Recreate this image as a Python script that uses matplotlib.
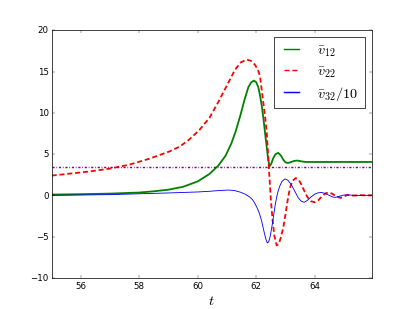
import numpy as np
import matplotlib
matplotlib.use("Agg")
import matplotlib.pyplot as plt

plt.style.use('classic')

# values
t12 = [55.0, 56.0, 57.0, 58.0, 58.5, 59.0, 59.5, 60.0, 60.4, 60.7, 60.95, 61.15,
       61.3, 61.45, 61.6, 61.73, 61.83, 61.92, 62.0, 62.07, 62.13, 62.19, 62.25,
       62.3, 62.36, 62.41, 62.46, 62.51, 62.58, 62.66, 62.75, 62.84, 62.93, 63.0,
       63.09, 63.2, 63.3, 63.41, 63.55, 63.7, 64.0, 65.95]
v12 = [0.1, 0.15, 0.22, 0.35, 0.5, 0.7, 1.05, 1.7, 2.6, 3.6, 4.8, 6.3,
       7.8, 9.6, 11.6, 13.1, 13.7, 13.9, 13.7, 13.1, 12.1, 10.8, 9.2,
       7.6, 5.8, 4.3, 3.55, 3.8, 4.5, 5.0, 5.15, 4.85, 4.3, 4.0,
       3.93, 4.05, 4.18, 4.22, 4.12, 4.05, 4.05, 4.05]

t22 = [55.0, 55.65, 56.3, 57.0, 57.65, 58.35, 59.05, 59.4, 59.7, 60.05, 60.4,
       60.7, 60.98, 61.27, 61.47, 61.67, 61.82, 61.96, 62.06, 62.13, 62.2, 62.25,
       62.3, 62.36, 62.41, 62.45, 62.5, 62.56, 62.62, 62.7, 62.77, 62.85, 62.93,
       63.0, 63.06, 63.12, 63.18, 63.25, 63.35, 63.45, 63.55, 63.65, 63.75, 63.87,
       64.0, 64.12, 64.25, 64.37, 64.49, 64.6, 64.75, 64.89, 65.0, 65.12, 65.3,
       65.55, 65.95]
v22 = [2.4, 2.65, 2.9, 3.25, 3.72, 4.45, 5.35, 5.95, 6.75, 7.9, 9.4,
       11.3, 13.2, 15.2, 16.1, 16.45, 16.3, 15.8, 15.2, 14.4, 12.4, 11.0,
       9.6, 7.6, 4.7, 2.3, -0.5, -3.0, -4.9, -6.05, -5.9, -5.0, -3.8,
       -2.3, -0.9, 0.3, 1.2, 1.8, 2.1, 1.9, 1.3, 0.5, -0.2, -0.7,
       -0.83, -0.6, -0.1, 0.25, 0.37, 0.2, -0.15, -0.3, -0.15, 0.08, -0.02,
       0.03, 0.0]

t32 = [55.0, 56.0, 57.0, 58.0, 59.0, 60.0, 60.4, 60.75, 61.05, 61.25, 61.45,
       61.62, 61.76, 61.87, 61.95, 62.03, 62.1, 62.17, 62.23, 62.28, 62.33, 62.38,
       62.43, 62.48, 62.54, 62.6, 62.66, 62.73, 62.8, 62.88, 62.98, 63.08, 63.2,
       63.32, 63.44, 63.54, 63.64, 63.75, 63.87, 64.0, 64.1, 64.22, 64.35, 64.5,
       64.62, 64.72, 64.85, 65.0, 65.2, 65.45, 65.7, 65.95]
v32 = [0.0, 0.05, 0.1, 0.2, 0.3, 0.42, 0.5, 0.6, 0.65, 0.6, 0.4,
       0.15, -0.15, -0.5, -0.95, -1.5, -2.1, -2.9, -3.8, -4.6, -5.3, -5.75,
       -5.6, -4.9, -3.7, -2.3, -0.9, 0.3, 1.1, 1.7, 2.0, 1.85, 1.3,
       0.5, -0.3, -0.7, -0.83, -0.6, -0.2, 0.15, 0.3, 0.36, 0.25, 0.0,
       -0.2, -0.23, -0.1, 0.05, 0.05, -0.03, 0.01, 0.0]

ref_level = 3.5

fig = plt.figure(figsize=(8, 6))
ax = fig.add_subplot(111)

ax.plot(t12, v12, 'g-', lw=2.5, label=r'$\bar{v}_{12}$')
ax.plot(t22, v22, 'r--', lw=2.5, dashes=(7, 4), label=r'$\bar{v}_{22}$')
ax.plot(t32, v32, 'b-', lw=1.2, label=r'$\bar{v}_{32}/10$')
ax.axhline(ref_level, color='purple', ls='-.', lw=2, dashes=(3, 2.5, 1, 2.5))

ax.set_xlim(55, 65.95)
ax.set_ylim(-10, 20)
ax.set_xticks([56, 58, 60, 62, 64])
ax.set_xlabel(r'$t$', fontsize=20)
leg = ax.legend(loc='upper right', fontsize=20, handlelength=1.6,
                handletextpad=1.0, labelspacing=0.35)
for ln in leg.get_lines():
    ln.set_linewidth(2)

fig.savefig('out.png', dpi=51.625)
